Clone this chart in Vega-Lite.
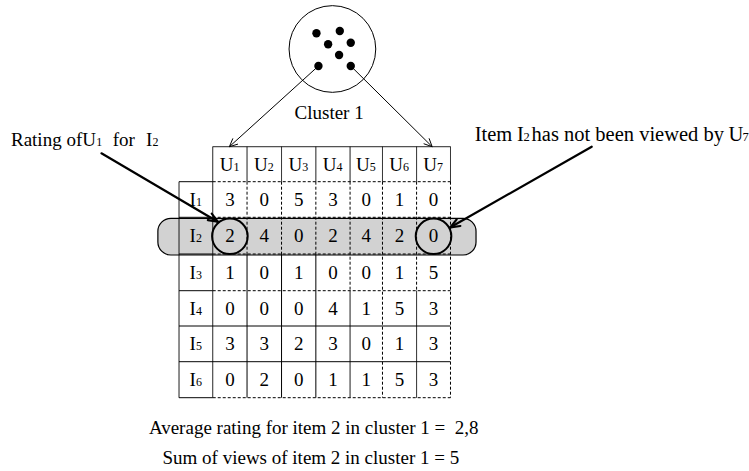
{
  "$schema": "https://vega.github.io/schema/vega-lite/v6.json",
  "width": 749,
  "height": 471,
  "autosize": {"type": "fit", "contains": "padding"},
  "padding": 0,
  "background": "white",
  "config": {"view": {"stroke": null}},
  "resolve": {"scale": {"size": "independent"}},
  "layer": [
    {
      "data": {"values": [{"x": 158.3, "x2": 477.3, "y": 218.3, "y2": 255}]},
      "mark": {"type": "rect", "fill": "#d2d2d2", "stroke": "black", "strokeWidth": 1.2, "cornerRadius": 13},
      "encoding": {
        "x": {"field": "x", "type": "quantitative", "scale": {"domain": [0, 749], "nice": false, "zero": false}, "axis": null},
        "x2": {"field": "x2"},
        "y": {"field": "y", "type": "quantitative", "scale": {"domain": [0, 471], "nice": false, "zero": false, "reverse": true}, "axis": null},
        "y2": {"field": "y2"}
      }
    },
    {
      "data": {"values": [
        {"x": 213.3, "x2": 451.7, "y": 146.7, "y2": 146.7, "kind": "solid"},
        {"x": 179.5, "x2": 213.3, "y": 181.7, "y2": 181.7, "kind": "solid"},
        {"x": 213.3, "x2": 451.7, "y": 181.7, "y2": 181.7, "kind": "dashed"},
        {"x": 179.5, "x2": 213.3, "y": 217.3, "y2": 217.3, "kind": "solid"},
        {"x": 213.3, "x2": 451.7, "y": 217.3, "y2": 217.3, "kind": "dashed"},
        {"x": 179.5, "x2": 213.3, "y": 254, "y2": 254, "kind": "solid"},
        {"x": 213.3, "x2": 451.7, "y": 254, "y2": 254, "kind": "dashed"},
        {"x": 179.5, "x2": 213.3, "y": 290.7, "y2": 290.7, "kind": "solid"},
        {"x": 213.3, "x2": 451.7, "y": 290.7, "y2": 290.7, "kind": "dashed"},
        {"x": 179.5, "x2": 451.7, "y": 326, "y2": 326, "kind": "solid"},
        {"x": 179.5, "x2": 451.7, "y": 361.7, "y2": 361.7, "kind": "solid"},
        {"x": 179.5, "x2": 213.3, "y": 397.7, "y2": 397.7, "kind": "solid"},
        {"x": 213.3, "x2": 451.7, "y": 397.7, "y2": 397.7, "kind": "dashed"},
        {"x": 179.5, "x2": 179.5, "y": 181.7, "y2": 397.7, "kind": "solid"},
        {"x": 213.3, "x2": 213.3, "y": 146.7, "y2": 397.7, "kind": "solid"},
        {"x": 247.7, "x2": 247.7, "y": 146.7, "y2": 181.7, "kind": "solid"},
        {"x": 247.7, "x2": 247.7, "y": 181.7, "y2": 254, "kind": "dashed"},
        {"x": 247.7, "x2": 247.7, "y": 254, "y2": 397.7, "kind": "solid"},
        {"x": 282.3, "x2": 282.3, "y": 146.7, "y2": 181.7, "kind": "solid"},
        {"x": 282.3, "x2": 282.3, "y": 181.7, "y2": 254, "kind": "dashed"},
        {"x": 282.3, "x2": 282.3, "y": 254, "y2": 397.7, "kind": "solid"},
        {"x": 316.7, "x2": 316.7, "y": 146.7, "y2": 181.7, "kind": "solid"},
        {"x": 316.7, "x2": 316.7, "y": 181.7, "y2": 254, "kind": "dashed"},
        {"x": 316.7, "x2": 316.7, "y": 254, "y2": 397.7, "kind": "solid"},
        {"x": 351, "x2": 351, "y": 146.7, "y2": 181.7, "kind": "solid"},
        {"x": 351, "x2": 351, "y": 181.7, "y2": 290.7, "kind": "dashed"},
        {"x": 351, "x2": 351, "y": 290.7, "y2": 397.7, "kind": "solid"},
        {"x": 383.5, "x2": 383.5, "y": 146.7, "y2": 181.7, "kind": "solid"},
        {"x": 383.5, "x2": 383.5, "y": 181.7, "y2": 397.7, "kind": "dashed"},
        {"x": 417.7, "x2": 417.7, "y": 146.7, "y2": 181.7, "kind": "solid"},
        {"x": 417.7, "x2": 417.7, "y": 181.7, "y2": 290.7, "kind": "dashed"},
        {"x": 417.7, "x2": 417.7, "y": 290.7, "y2": 397.7, "kind": "solid"},
        {"x": 451.7, "x2": 451.7, "y": 146.7, "y2": 181.7, "kind": "solid"},
        {"x": 451.7, "x2": 451.7, "y": 181.7, "y2": 397.7, "kind": "dashed"}
      ]},
      "mark": {"type": "rule", "color": "black", "strokeWidth": 1},
      "encoding": {
        "x": {"field": "x", "type": "quantitative", "scale": {"domain": [0, 749], "nice": false, "zero": false}, "axis": null},
        "x2": {"field": "x2"},
        "y": {"field": "y", "type": "quantitative", "scale": {"domain": [0, 471], "nice": false, "zero": false, "reverse": true}, "axis": null},
        "y2": {"field": "y2"},
        "strokeDash": {"field": "kind", "type": "nominal", "scale": {"domain": ["solid", "dashed"], "range": [[1, 0], [3, 2]]}, "legend": null}
      }
    },
    {
      "data": {"values": [{"x": 333.3, "y": 49}]},
      "mark": {"type": "point", "shape": "circle", "filled": false, "stroke": "black", "strokeWidth": 1, "size": 7517, "opacity": 1},
      "encoding": {
        "x": {"field": "x", "type": "quantitative", "scale": {"domain": [0, 749], "nice": false, "zero": false}, "axis": null},
        "y": {"field": "y", "type": "quantitative", "scale": {"domain": [0, 471], "nice": false, "zero": false, "reverse": true}, "axis": null}
      }
    },
    {
      "data": {"values": [
        {"x": 317.3, "y": 33.3}, {"x": 340.7, "y": 31}, {"x": 329, "y": 44.3},
        {"x": 351.7, "y": 42.7}, {"x": 340, "y": 55}, {"x": 319.3, "y": 66}, {"x": 351.7, "y": 66}
      ]},
      "mark": {"type": "point", "shape": "circle", "filled": true, "color": "black", "size": 70, "opacity": 1},
      "encoding": {
        "x": {"field": "x", "type": "quantitative", "scale": {"domain": [0, 749], "nice": false, "zero": false}, "axis": null},
        "y": {"field": "y", "type": "quantitative", "scale": {"domain": [0, 471], "nice": false, "zero": false, "reverse": true}, "axis": null}
      }
    },
    {
      "data": {"values": [
        {"x": 319.3, "y": 66, "x2": 230, "y2": 146.7},
        {"x": 230, "y": 146.7, "x2": 238.6, "y2": 144.1},
        {"x": 230, "y": 146.7, "x2": 233.5, "y2": 138.4},
        {"x": 351.7, "y": 66, "x2": 433.3, "y2": 146.7},
        {"x": 433.3, "y": 146.7, "x2": 430.2, "y2": 138.3},
        {"x": 433.3, "y": 146.7, "x2": 424.8, "y2": 143.7}
      ]},
      "mark": {"type": "rule", "color": "black", "strokeWidth": 1},
      "encoding": {
        "x": {"field": "x", "type": "quantitative", "scale": {"domain": [0, 749], "nice": false, "zero": false}, "axis": null},
        "x2": {"field": "x2"},
        "y": {"field": "y", "type": "quantitative", "scale": {"domain": [0, 471], "nice": false, "zero": false, "reverse": true}, "axis": null},
        "y2": {"field": "y2"}
      }
    },
    {
      "data": {"values": [
        {"x": 101.7, "y": 153.3, "x2": 218.3, "y2": 221.7},
        {"x": 218.3, "y": 221.7, "x2": 212.3, "y2": 213.7},
        {"x": 218.3, "y": 221.7, "x2": 208.4, "y2": 220.1},
        {"x": 593.3, "y": 146.7, "x2": 451.7, "y2": 227.3},
        {"x": 451.7, "y": 227.3, "x2": 461.6, "y2": 226.0},
        {"x": 451.7, "y": 227.3, "x2": 457.9, "y2": 219.4}
      ]},
      "mark": {"type": "rule", "color": "black", "strokeWidth": 2.2, "strokeCap": "round"},
      "encoding": {
        "x": {"field": "x", "type": "quantitative", "scale": {"domain": [0, 749], "nice": false, "zero": false}, "axis": null},
        "x2": {"field": "x2"},
        "y": {"field": "y", "type": "quantitative", "scale": {"domain": [0, 471], "nice": false, "zero": false, "reverse": true}, "axis": null},
        "y2": {"field": "y2"}
      }
    },
    {
      "data": {"values": [{"x": 230.5, "y": 236.3}, {"x": 434.7, "y": 236.3}]},
      "mark": {"type": "point", "shape": "circle", "filled": false, "stroke": "black", "strokeWidth": 2, "size": 1267, "opacity": 1},
      "encoding": {
        "x": {"field": "x", "type": "quantitative", "scale": {"domain": [0, 749], "nice": false, "zero": false}, "axis": null},
        "y": {"field": "y", "type": "quantitative", "scale": {"domain": [0, 471], "nice": false, "zero": false, "reverse": true}, "axis": null}
      }
    },
    {
      "data": {"values": [
        {"x": 230.5, "y": 205.9, "t": "3"}, {"x": 265, "y": 205.9, "t": "0"}, {"x": 299.5, "y": 205.9, "t": "5"}, {"x": 333.85, "y": 205.9, "t": "3"}, {"x": 367.25, "y": 205.9, "t": "0"}, {"x": 400.6, "y": 205.9, "t": "1"}, {"x": 434.7, "y": 205.9, "t": "0"},
        {"x": 230.5, "y": 242, "t": "2"}, {"x": 265, "y": 242, "t": "4"}, {"x": 299.5, "y": 242, "t": "0"}, {"x": 333.85, "y": 242, "t": "2"}, {"x": 367.25, "y": 242, "t": "4"}, {"x": 400.6, "y": 242, "t": "2"}, {"x": 434.7, "y": 242, "t": "0"},
        {"x": 230.5, "y": 278.7, "t": "1"}, {"x": 265, "y": 278.7, "t": "0"}, {"x": 299.5, "y": 278.7, "t": "1"}, {"x": 333.85, "y": 278.7, "t": "0"}, {"x": 367.25, "y": 278.7, "t": "0"}, {"x": 400.6, "y": 278.7, "t": "1"}, {"x": 434.7, "y": 278.7, "t": "5"},
        {"x": 230.5, "y": 314.7, "t": "0"}, {"x": 265, "y": 314.7, "t": "0"}, {"x": 299.5, "y": 314.7, "t": "0"}, {"x": 333.85, "y": 314.7, "t": "4"}, {"x": 367.25, "y": 314.7, "t": "1"}, {"x": 400.6, "y": 314.7, "t": "5"}, {"x": 434.7, "y": 314.7, "t": "3"},
        {"x": 230.5, "y": 350.2, "t": "3"}, {"x": 265, "y": 350.2, "t": "3"}, {"x": 299.5, "y": 350.2, "t": "2"}, {"x": 333.85, "y": 350.2, "t": "3"}, {"x": 367.25, "y": 350.2, "t": "0"}, {"x": 400.6, "y": 350.2, "t": "1"}, {"x": 434.7, "y": 350.2, "t": "3"},
        {"x": 230.5, "y": 386.1, "t": "0"}, {"x": 265, "y": 386.1, "t": "2"}, {"x": 299.5, "y": 386.1, "t": "0"}, {"x": 333.85, "y": 386.1, "t": "1"}, {"x": 367.25, "y": 386.1, "t": "1"}, {"x": 400.6, "y": 386.1, "t": "5"}, {"x": 434.7, "y": 386.1, "t": "3"},
        {"x": 330, "y": 119.3, "t": "Cluster 1"},
        {"x": 314.5, "y": 434, "t": "Average rating for item 2 in cluster 1 =\u00a0 2,8"},
        {"x": 311.7, "y": 464.3, "t": "Sum of views of item 2 in cluster 1 = 5"}
      ]},
      "mark": {"type": "text", "align": "center", "baseline": "alphabetic", "font": "Liberation Serif", "fontSize": 19, "color": "black"},
      "encoding": {
        "x": {"field": "x", "type": "quantitative", "scale": {"domain": [0, 749], "nice": false, "zero": false}, "axis": null},
        "y": {"field": "y", "type": "quantitative", "scale": {"domain": [0, 471], "nice": false, "zero": false, "reverse": true}, "axis": null},
        "text": {"field": "t"}
      }
    },
    {
      "data": {"values": [
        {"x": 220.3, "y": 170.6, "t": "U", "sz": "big"}, {"x": 234, "y": 170.6, "t": "1", "sz": "small"},
        {"x": 254.8, "y": 170.6, "t": "U", "sz": "big"}, {"x": 268.5, "y": 170.6, "t": "2", "sz": "small"},
        {"x": 289.3, "y": 170.6, "t": "U", "sz": "big"}, {"x": 303, "y": 170.6, "t": "3", "sz": "small"},
        {"x": 323.65, "y": 170.6, "t": "U", "sz": "big"}, {"x": 337.35, "y": 170.6, "t": "4", "sz": "small"},
        {"x": 357.05, "y": 170.6, "t": "U", "sz": "big"}, {"x": 370.75, "y": 170.6, "t": "5", "sz": "small"},
        {"x": 390.4, "y": 170.6, "t": "U", "sz": "big"}, {"x": 404.1, "y": 170.6, "t": "6", "sz": "small"},
        {"x": 424.5, "y": 170.6, "t": "U", "sz": "big"}, {"x": 438.2, "y": 170.6, "t": "7", "sz": "small"},
        {"x": 190, "y": 205.9, "t": "I", "sz": "big"}, {"x": 196.5, "y": 205.9, "t": "1", "sz": "small"},
        {"x": 190, "y": 242, "t": "I", "sz": "big"}, {"x": 196.5, "y": 242, "t": "2", "sz": "small"},
        {"x": 190, "y": 278.7, "t": "I", "sz": "big"}, {"x": 196.5, "y": 278.7, "t": "3", "sz": "small"},
        {"x": 190, "y": 314.7, "t": "I", "sz": "big"}, {"x": 196.5, "y": 314.7, "t": "4", "sz": "small"},
        {"x": 190, "y": 350.2, "t": "I", "sz": "big"}, {"x": 196.5, "y": 350.2, "t": "5", "sz": "small"},
        {"x": 190, "y": 386.1, "t": "I", "sz": "big"}, {"x": 196.5, "y": 386.1, "t": "6", "sz": "small"},
        {"x": 11, "y": 145.7, "t": "Rating of", "sz": "big"},
        {"x": 82.5, "y": 145.7, "t": "U", "sz": "big"},
        {"x": 96.5, "y": 145.7, "t": "1", "sz": "small"},
        {"x": 113, "y": 145.7, "t": "for", "sz": "big"},
        {"x": 146.5, "y": 145.7, "t": "I", "sz": "big"},
        {"x": 153, "y": 145.7, "t": "2", "sz": "small"}
      ]},
      "mark": {"type": "text", "align": "left", "baseline": "alphabetic", "font": "Liberation Serif", "color": "black"},
      "encoding": {
        "x": {"field": "x", "type": "quantitative", "scale": {"domain": [0, 749], "nice": false, "zero": false}, "axis": null},
        "y": {"field": "y", "type": "quantitative", "scale": {"domain": [0, 471], "nice": false, "zero": false, "reverse": true}, "axis": null},
        "text": {"field": "t"},
        "size": {"field": "sz", "type": "nominal", "scale": {"domain": ["big", "small"], "range": [19, 12]}, "legend": null}
      }
    },
    {
      "data": {"values": [
        {"x": 476, "y": 140.7, "t": "Item", "sz": "big"},
        {"x": 518.5, "y": 140.7, "t": "I", "sz": "big"},
        {"x": 525, "y": 140.7, "t": "2", "sz": "small"},
        {"x": 533, "y": 140.7, "t": "has not been viewed by", "sz": "big"},
        {"x": 730.5, "y": 140.7, "t": "U", "sz": "big"},
        {"x": 744.5, "y": 140.7, "t": "7", "sz": "small"}
      ]},
      "mark": {"type": "text", "align": "left", "baseline": "alphabetic", "font": "Liberation Serif", "color": "black"},
      "encoding": {
        "x": {"field": "x", "type": "quantitative", "scale": {"domain": [0, 749], "nice": false, "zero": false}, "axis": null},
        "y": {"field": "y", "type": "quantitative", "scale": {"domain": [0, 471], "nice": false, "zero": false, "reverse": true}, "axis": null},
        "text": {"field": "t"},
        "size": {"field": "sz", "type": "nominal", "scale": {"domain": ["big", "small"], "range": [20.5, 12.5]}, "legend": null}
      }
    }
  ]
}
